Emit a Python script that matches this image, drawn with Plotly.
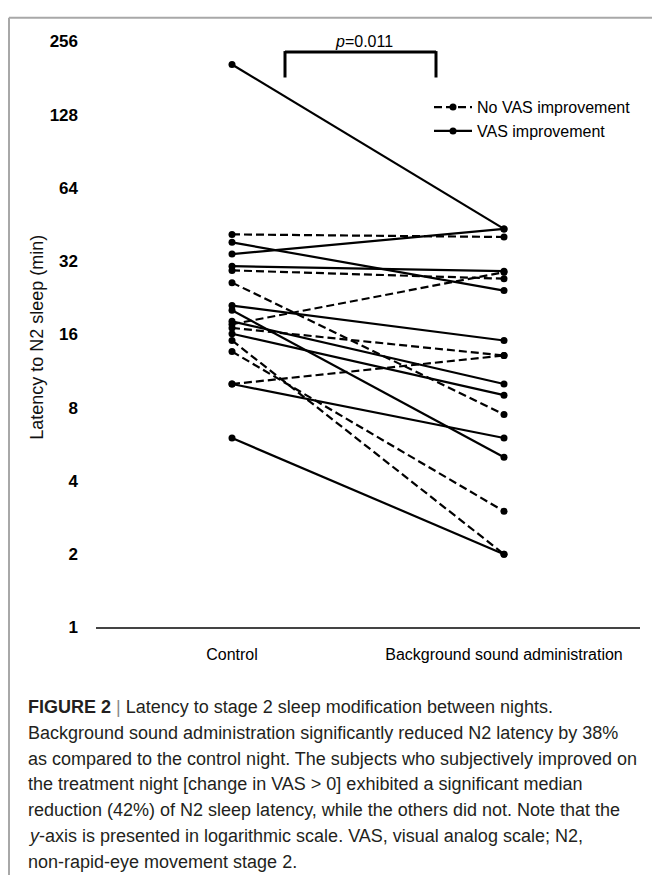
import math
import plotly.graph_objects as go

# ---- data ----
categories = ["Control", "Background sound administration"]
y_ticks = [1, 2, 4, 8, 16, 32, 64, 128, 256]
y_tick_labels = ["1", "2", "4", "8", "16", "32", "64", "128", "256"]

no_vas_control = [41.2, 29.3, 26.1, 17.0, 17.6, 15.1, 13.6, 10.0]
no_vas_background = [40.2, 27.1, 7.5, 13.1, 28.8, 2.0, 3.0, 13.1]

vas_control = [205.5, 38.2, 34.2, 30.5, 21.0, 20.1, 18.1, 16.1, 10.0, 6.0]
vas_background = [43.4, 24.2, 43.4, 29.1, 15.1, 5.0, 10.0, 9.0, 6.0, 2.0]

series_names = ["No VAS improvement", "VAS improvement"]
p_label = "<i>p</i>=0.011"
y_title = "Latency to N2 sleep (min)"
caption_lines = [
    "<b>FIGURE 2</b> <span style='color:#8a8a8a'>|</span> Latency to stage 2 sleep modification between nights.",
    "Background sound administration significantly reduced N2 latency by 38%",
    "as compared to the control night. The subjects who subjectively improved on",
    "the treatment night [change in VAS > 0] exhibited a significant median",
    "reduction (42%) of N2 sleep latency, while the others did not. Note that the",
    "<i>y</i>-axis is presented in logarithmic scale. VAS, visual analog scale; N2,",
    "non-rapid-eye movement stage 2.",
]

W, H = 652, 885
SANS = "Liberation Sans, Arial, Helvetica, sans-serif"


def px(x):
    return x / W


def py(y):
    return 1 - y / H


def paired(ctrl, bg):
    xs, ys = [], []
    for a, b in zip(ctrl, bg):
        xs += [0, 1, None]
        ys += [a, b, None]
    return xs, ys


fig = go.Figure()
for name, ctrl, bg, dash in [
    (series_names[0], no_vas_control, no_vas_background, "8px,4px"),
    (series_names[1], vas_control, vas_background, "solid"),
]:
    xs, ys = paired(ctrl, bg)
    fig.add_trace(go.Scatter(
        x=xs, y=ys, mode="lines+markers", name=name,
        connectgaps=False,
        line=dict(color="black", width=2.2, dash=dash),
        marker=dict(color="black", size=7, symbol="circle"),
        cliponaxis=False,
    ))

shapes = [
    # bracket
    dict(type="line", xref="paper", yref="paper", x0=px(285), x1=px(436), y0=py(44), y1=py(44),
         line=dict(color="black", width=3)),
    dict(type="line", xref="paper", yref="paper", x0=px(285), x1=px(285), y0=py(43), y1=py(70),
         line=dict(color="black", width=3)),
    dict(type="line", xref="paper", yref="paper", x0=px(436), x1=px(436), y0=py(43), y1=py(70),
         line=dict(color="black", width=3)),
    # frame
    dict(type="line", xref="paper", yref="paper", x0=px(9), x1=1, y0=py(9), y1=py(9),
         line=dict(color="#a8a8a8", width=2)),
    dict(type="line", xref="paper", yref="paper", x0=px(9), x1=px(9), y0=py(9), y1=0,
         line=dict(color="#a8a8a8", width=2)),
]

annotations = [
    dict(text=p_label, x=px(364), y=py(33), xref="paper", yref="paper", showarrow=False,
         xanchor="center", yanchor="middle", font=dict(family=SANS, size=16, color="black")),
    dict(text=y_title, x=px(37), y=py(336), xref="paper", yref="paper", showarrow=False,
         textangle=-90, xanchor="center", yanchor="middle",
         font=dict(family=SANS, size=18, color="#111")),
]
for i, line in enumerate(caption_lines):
    annotations.append(dict(
        text=line, x=px(26), y=py(713 + 26.5 * i), xref="paper", yref="paper", showarrow=False,
        xanchor="left", yanchor="middle", align="left",
        font=dict(family=SANS, size=18, color="#231f20"),
    ))

fig.update_layout(
    width=W, height=H,
    margin=dict(l=0, r=0, t=0, b=0),
    paper_bgcolor="white", plot_bgcolor="white",
    showlegend=True,
    legend=dict(x=px(429), y=py(83), xanchor="left", yanchor="top",
                font=dict(family=SANS, size=16, color="black"),
                bgcolor="rgba(0,0,0,0)", itemwidth=38, tracegroupgap=0),
    xaxis=dict(domain=[px(96), px(640)], range=[-0.5, 1.5],
               tickvals=[0, 1], ticktext=categories,
               showline=True, linecolor="#444", linewidth=2,
               showgrid=False, zeroline=False, ticks="",
               ticklabelstandoff=11,
               tickfont=dict(family=SANS, size=16, color="black")),
    yaxis=dict(type="log", domain=[py(632), py(33)], range=[0, math.log10(256)],
               tickvals=y_ticks, ticktext=y_tick_labels,
               showline=False, showgrid=False, zeroline=False, ticks="",
               ticklabelstandoff=17,
               tickfont=dict(family=SANS, size=17, color="black", weight="bold")),
    shapes=shapes,
    annotations=annotations,
)

fig.write_html("out.html", config={"displayModeBar": False},
               post_script="document.body.style.margin='0';")
